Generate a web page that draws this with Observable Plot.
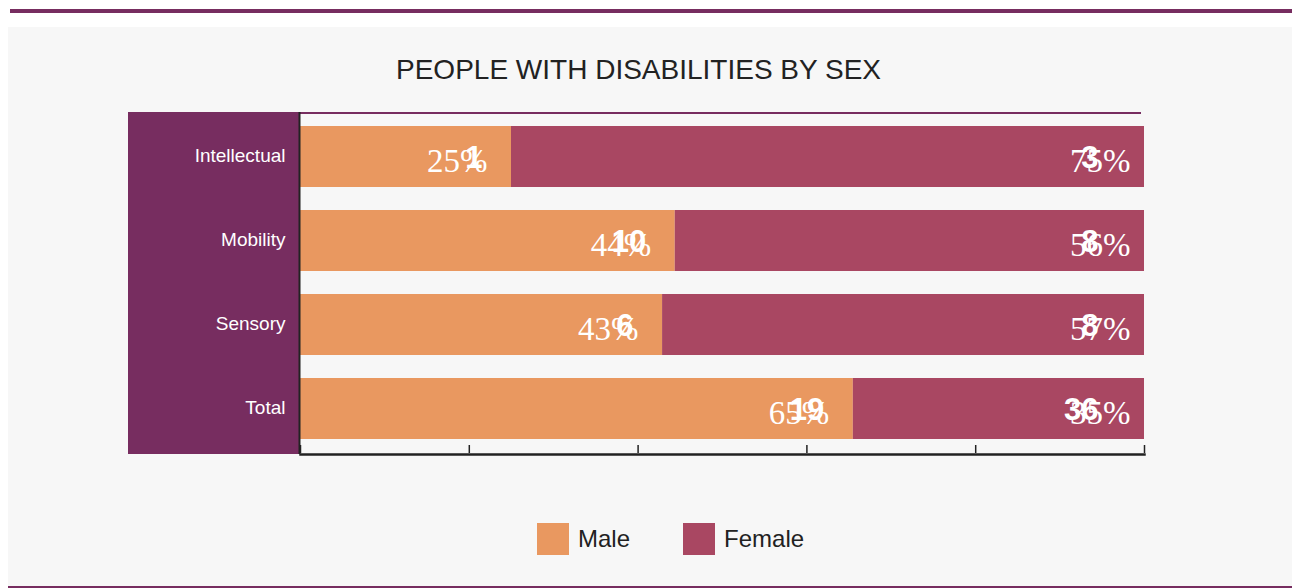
<!DOCTYPE html>
<html>
<head>
<meta charset="utf-8">
<script src="https://cdn.jsdelivr.net/npm/d3@7"></script>
<script src="https://cdn.jsdelivr.net/npm/@observablehq/plot@0.6"></script>
<style>
  html, body { margin: 0; padding: 0; background: #ffffff; }
  body { width: 1292px; height: 588px; position: relative; overflow: hidden; font-family: "Liberation Sans", Arial, sans-serif; }
  #topline { position: absolute; left: 10px; top: 9px; width: 1282px; height: 4px; background: #772d60; }
  #panel { position: absolute; left: 8px; top: 27px; width: 1284px; height: 561px; background: #f7f7f7; }
  #bottomline { position: absolute; left: 8px; top: 586px; width: 1284px; height: 2px; background: #772d60; }
  #title { position: absolute; left: 0; width: 1277px; top: 52px; text-align: center; font-size: 28px; color: #222; line-height: 36px; }
  #band { position: absolute; left: 128px; top: 112px; width: 171px; height: 342px; background: #772d60; }
  #plotline { position: absolute; left: 300px; top: 112px; width: 841px; height: 2px; background: #772d60; }
  #chart { position: absolute; left: 0; top: 0; }
  #legend { position: absolute; left: 537px; top: 523px; display: flex; align-items: center; font-size: 24px; color: #222; }
  .sw { width: 32px; height: 32px; display: inline-block; }
  .lab { margin-left: 9px; margin-right: 53px; line-height: 32px; }
</style>
</head>
<body>
<div id="topline"></div>
<div id="panel"></div>
<div id="bottomline"></div>
<div id="title">PEOPLE WITH DISABILITIES BY SEX</div>
<div id="band"></div>
<div id="plotline"></div>
<div id="chart"></div>
<div id="legend"></div>
<script>
// Data
const categories = ["Intellectual", "Mobility", "Sensory", "Total"];
const series = ["Male", "Female"];
const colors = ["#e99860", "#a94762"];
const maleShare = [25, 44.4, 42.9, 65.5];     // bar widths (%)
const femaleShare = [75, 55.6, 57.1, 34.5];
const malePctLabels = ["25%", "44%", "43%", "65%"];
const femalePctLabels = ["75%", "56%", "57%", "35%"];
const maleCounts = [1, 10, 6, 19];
const femaleCounts = [3, 8, 8, 36];
const xTicks = [0, 20, 40, 60, 80, 100];

const rows = [];
categories.forEach((c, i) => {
  rows.push({category: c, sex: "Male", value: maleShare[i]});
  rows.push({category: c, sex: "Female", value: femaleShare[i]});
});
const maleRows = categories.map((c, i) => ({category: c, end: maleShare[i], pct: malePctLabels[i], count: maleCounts[i]}));
const femaleRows = categories.map((c, i) => ({category: c, end: 100, pct: femalePctLabels[i], count: femaleCounts[i]}));

const plot = Plot.plot({
  width: 1292,
  height: 588,
  marginLeft: 300,
  marginRight: 148,
  marginTop: 112,
  marginBottom: 134,
  style: {background: "transparent", fontFamily: "'Liberation Sans', Arial, sans-serif"},
  x: {domain: [0, 100], axis: null},
  y: {domain: categories, paddingInner: 0.27, paddingOuter: 0.15, axis: null},
  color: {domain: series, range: colors},
  marks: [
    Plot.barX(rows, {x: "value", y: "category", fill: "sex", order: null}),
    Plot.axisY({tickSize: 0, tickPadding: 15, fill: "#ffffff", fontSize: 19, dy: -1, label: null}),
    Plot.ruleX([0], {stroke: "#222", strokeWidth: 2, dx: -1}),
    Plot.frame({anchor: "bottom", stroke: "#222", strokeWidth: 2.5}),
    Plot.ruleX(xTicks, {x: d => d, stroke: "#222", strokeWidth: 1.5, insetTop: 333, insetBottom: 1}),
    Plot.text(maleRows, {x: "end", y: "category", text: "pct", textAnchor: "end", dx: -24, dy: 4, fill: "#fff", fontSize: 33, fontFamily: "'Liberation Serif', 'Times New Roman', serif"}),
    Plot.text(femaleRows, {x: "end", y: "category", text: "pct", textAnchor: "end", dx: -14, dy: 4, fill: "#fff", fontSize: 33, fontFamily: "'Liberation Serif', 'Times New Roman', serif"}),
    Plot.text(maleRows, {x: "end", y: "category", text: d => String(d.count), textAnchor: "end", dx: -29, dy: 1, fill: "#fff", fontSize: 31, fontWeight: "bold"}),
    Plot.text(femaleRows, {x: "end", y: "category", text: d => String(d.count), textAnchor: "end", dx: -46, dy: 1, fill: "#fff", fontSize: 31, fontWeight: "bold"})
  ]
});
document.getElementById("chart").appendChild(plot);

const legend = document.getElementById("legend");
series.forEach((s, i) => {
  const sw = document.createElement("span");
  sw.className = "sw";
  sw.style.background = colors[i];
  const lab = document.createElement("span");
  lab.className = "lab";
  lab.textContent = s;
  legend.appendChild(sw);
  legend.appendChild(lab);
});
</script>
</body>
</html>
